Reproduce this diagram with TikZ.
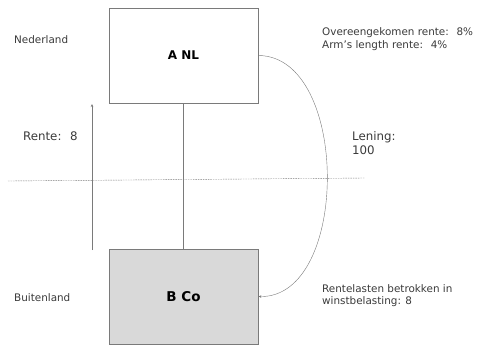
\documentclass[tikz,border=0pt]{standalone}
\usepackage{fontspec}
\setmainfont{DejaVu Sans}
\usetikzlibrary{arrows.meta}
\definecolor{lijn}{HTML}{7A7A7A}
\definecolor{tekst}{HTML}{3A3A3A}
\definecolor{vlak}{HTML}{D9D9D9}
\tikzset{
	entiteit/.style={draw=lijn, thick, minimum width=149pt, minimum height=95pt, inner sep=0pt, font=\bfseries\fontsize{12}{14}\selectfont, text=black},
	label/.style={anchor=west, inner sep=0pt, align=left, text=tekst, font=\fontsize{10.4}{12.6}\selectfont},
	groot/.style={label, font=\fontsize{11.8}{14}\selectfont},
	pijl/.style={draw=lijn, -{Stealth[length=3pt,width=2.5pt]}}
}
\begin{document}
\begin{tikzpicture}[x=1pt,y=-1pt]
		\useasboundingbox (0,0) rectangle (478,346);

		\node [entiteit]              (anl) at (183.5, 55.5) {A NL};
		\node [entiteit, fill=vlak, font=\bfseries\fontsize{13.5}{15}\selectfont] (bco) at (183.5,296.5) {B Co};

		\node [label] (nl)   at ( 14, 40) {Nederland};
		\node [label] (bl)   at ( 14,298) {Buitenland};
		\node [groot] (rente)  at ( 23,136) {Rente:~ 8};
		\node [groot] (lening) at (352,143) {Lening:\\100};
		\node [label] (afspraak) at (322, 39) {Overeengekomen rente:~ 8\%\\Arm’s length rente:~ 4\%};
		\node [label] (lasten)   at (322,295.5) {Rentelasten betrokken in\\winstbelasting: 8};

		\coordinate (grensl) at (  8,181);
		\coordinate (grensr) at (365,178);
		\coordinate (pvan)   at ( 92,250);
		\coordinate (pnaar)  at ( 92,104);

		\draw[lijn, dash pattern=on 1.5pt off 1pt] (grensl)--(grensr);
		\draw[lijn] (anl.south)--(bco.north);
		\draw[pijl] (pvan)--(pnaar);
		\draw[pijl] (anl.east) .. controls (350,56) and (350,298) .. (bco.east);
	\end{tikzpicture}
\end{document}
